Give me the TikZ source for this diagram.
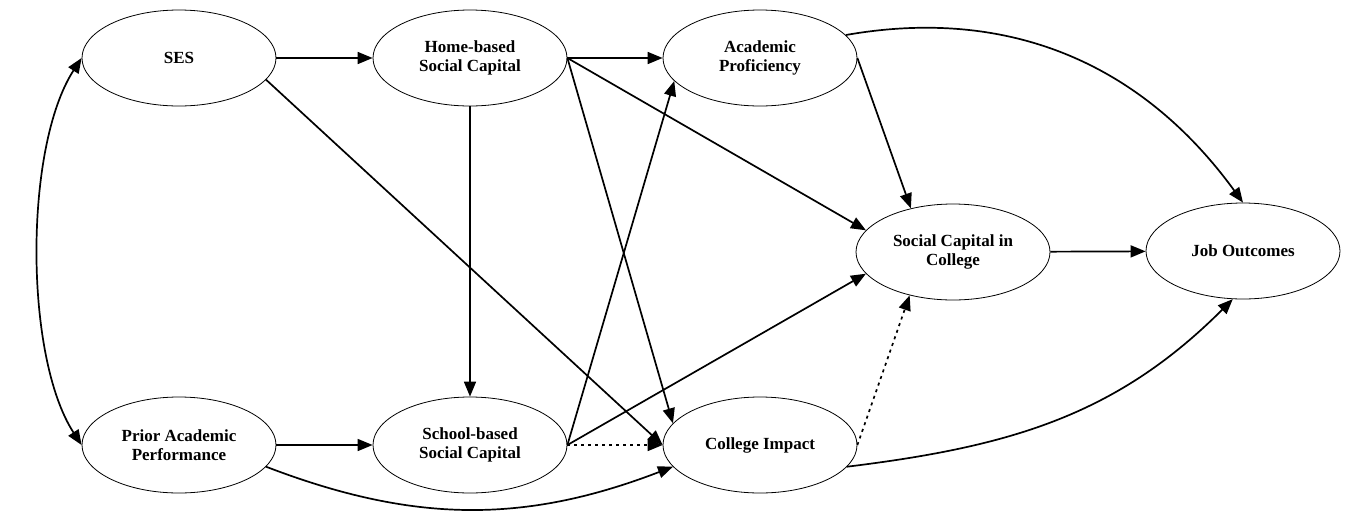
\documentclass[tikz,border=0pt]{standalone}
\usepackage{fontspec}
\setmainfont{Liberation Serif}
\usetikzlibrary{arrows.meta,shapes.geometric}
\begin{document}
\begin{tikzpicture}[x=1pt,y=-1pt,
  construct/.style={ellipse,draw,line width=0.8pt,minimum width=194pt,minimum height=96pt,
    inner sep=0pt,align=center,font=\bfseries\fontsize{17}{19}\selectfont},
  link/.style={line width=1.7pt,-{Triangle[length=15pt,width=12pt]}},
  twoway/.style={line width=1.7pt,{Triangle[length=15pt,width=12pt]}-{Triangle[length=15pt,width=12pt]}},
  dotlink/.style={link,dash pattern=on 3pt off 4pt}]
\useasboundingbox (0,0) rectangle (1350,515);

% constructs
\node[construct] (ses)    at (179,58)  {SES};
\node[construct] (home)   at (470,58)  {Home-based\\Social Capital};
\node[construct] (ap)     at (760,58)  {Academic\\Proficiency};
\node[construct] (scc)    at (953,252) {Social Capital in\\College};
\node[construct] (jo)     at (1243,251) {Job Outcomes};
\node[construct] (prior)  at (179,445) {Prior Academic\\Performance};
\node[construct] (school) at (470,445) {School-based\\Social Capital};
\node[construct] (ci)     at (760,445) {College Impact};

% correlation between the exogenous constructs
\draw[twoway] (ses.west) to[out=-123,in=123,looseness=0.7] (prior.west);

% paths
\draw[link] (ses) -- (home);
\draw[link] (ses.-14) -- (ci.west);
\draw[link] (home) -- (ap);
\draw[link] (home) -- (school);
\draw[link] (home.east) -- (scc.166);
\draw[link] (home.east) -- (ci.166);
\draw[link] (prior) -- (school);
\draw[link] (prior.-14) to[out=-21,in=-159] (ci.-166);
\draw[link] (school.east) -- (ap.195);
\draw[link] (school.east) -- (scc.194);
\draw[dotlink] (school.east) -- (ci.west);
\draw[link] (ap.east) -- (scc.134);
\draw[link] (ap.15) to[out=10,in=126] (jo.north);
\draw[link] (scc) -- (jo);
\draw[dotlink] (ci.east) -- (scc.225);
\draw[link] (ci.-14) to[out=7,in=-135] (jo.-102);
\end{tikzpicture}
\end{document}
